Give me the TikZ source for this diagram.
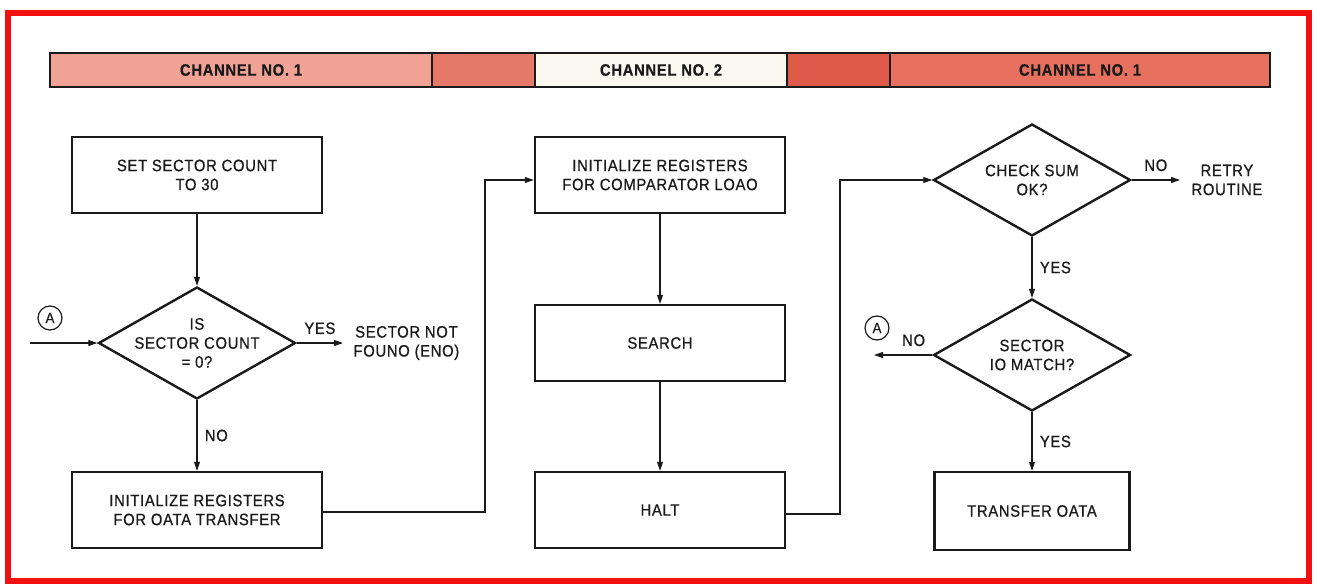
\documentclass[tikz,border=0pt]{standalone}
\usepackage{fontspec}
\setmainfont{Liberation Sans}[FakeStretch=0.9, LetterSpace=4, FakeBold=0.6]
\usetikzlibrary{shapes.geometric,arrows.meta}
\definecolor{frame}{HTML}{F01010}
\definecolor{chA}{HTML}{F0A294}
\definecolor{chB}{HTML}{E57868}
\definecolor{chC}{HTML}{FAF8F0}
\definecolor{chD}{HTML}{E05A4A}
\definecolor{chE}{HTML}{E8705E}
\definecolor{ink}{HTML}{1A1A1A}
\begin{document}
\begin{tikzpicture}[x=1pt,y=-1pt,
  txt/.style={font=\fontsize{16.5}{19}\selectfont, text=ink, align=center},
  box/.style={txt, draw=ink, line width=2.4pt, minimum width=250pt, minimum height=76pt, inner sep=0pt},
  dia/.style={draw=ink, line width=2.4pt, diamond, inner sep=0pt, minimum width=197pt, minimum height=112pt},
  seg/.style={draw=ink, line width=2pt, minimum height=34pt, inner sep=0pt, font=\fontsize{16.5}{18}\selectfont\bfseries, text=ink},
  conn/.style={draw=ink, line width=1.1pt},
  arr/.style={conn, -{Triangle[length=9pt,width=6pt]}},
  lbl/.style={font=\fontsize{16.5}{19}\selectfont, text=ink},
  circ/.style={circle, draw=ink, line width=1.2pt, minimum size=24pt, inner sep=0pt, font=\fontsize{15}{16}\selectfont, text=ink}
]
\useasboundingbox (0,0) rectangle (1317,588);
\fill[white] (0,0) rectangle (1317,588);
\draw[frame, line width=6pt] (8,13) rectangle (1309,581);
% channel bar
\node[seg, fill=chA, minimum width=382pt] (s1) at (241,70) {CHANNEL NO. 1};
\node[seg, fill=chB, minimum width=103pt] (s2) at (483.5,70) {};
\node[seg, fill=chC, minimum width=252pt] (s3) at (661,70) {CHANNEL NO. 2};
\node[seg, fill=chD, minimum width=103pt] (s4) at (838.5,70) {};
\node[seg, fill=chE, minimum width=380pt] (s5) at (1080,70) {CHANNEL NO. 1};
% column 1
\node[box] (b1) at (197,175) {SET SECTOR COUNT\\TO 30};
\node[dia] (d1) at (197,343) {};
\node[txt] (d1t) at (d1.center) {IS\\SECTOR COUNT\\= 0?};
\node[box] (b2) at (197,510) {INITIALIZE REGISTERS\\FOR OATA TRANSFER};
\node[circ] (a1) at (50,318) {A};
\coordinate (in1) at (30,343);
\node[txt, anchor=west] (enf) at (350,343) {SECTOR NOT\\FOUNO (ENO)};
\coordinate (enfin) at (343,343);
\draw[arr] (b1) -- (d1.north);
\draw[arr] (in1) -- (d1.west);
\draw[arr] (d1.east) -- (enfin) node[lbl, midway, above=5pt] {YES};
\draw[arr] (d1.south) -- (b2.north) node[lbl, midway, right=4pt] {NO};
% column 2
\node[box] (b3) at (660,175) {INITIALIZE REGISTERS\\FOR COMPARATOR LOAO};
\node[box] (b4) at (660,343) {SEARCH};
\node[box] (b5) at (660,510) {HALT};
\draw[arr] (b2.east |- 0,512) -| (485,180) -- (b3.west |- 0,180);
\draw[arr] (b3) -- (b4);
\draw[arr] (b4) -- (b5);
% column 3
\node[dia] (d2) at (1032,180) {};
\node[txt] (d2t) at (d2.center) {CHECK SUM\\OK?};
\node[dia] (d3) at (1032,355) {};
\node[txt] (d3t) at (d3.center) {SECTOR\\IO MATCH?};
\node[box, minimum width=195pt, minimum height=78pt] (b6) at (1032,511) {TRANSFER OATA};
\node[txt, anchor=west] (rt) at (1188,180) {RETRY\\ROUTINE};
\coordinate (rtin) at (1180,180);
\node[circ] (a2) at (877,328) {A};
\coordinate (out2) at (874,355);
\draw[arr] (b5.east |- 0,514) -| (840,180) -- (d2.west);
\draw[arr] (d2.east) -- (rtin) node[lbl, midway, above=5pt] {NO};
\draw[arr] (d2.south) -- (d3.north) node[lbl, midway, right=4pt] {YES};
\draw[arr] (d3.west) -- (out2) node[lbl, pos=0.32, above=5pt] {NO};
\draw[arr] (d3.south) -- (b6.north) node[lbl, midway, right=4pt] {YES};
\end{tikzpicture}
\end{document}
